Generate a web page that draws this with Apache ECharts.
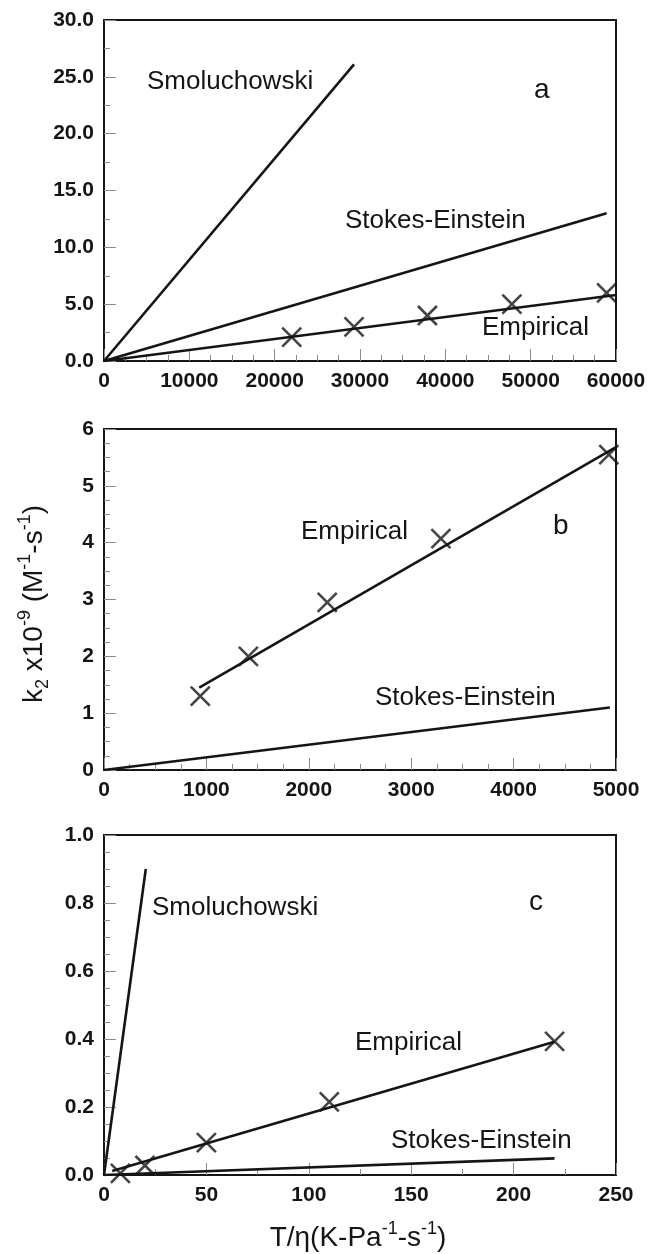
<!DOCTYPE html>
<html>
<head>
<meta charset="utf-8">
<script src="https://cdn.jsdelivr.net/npm/echarts@6/dist/echarts.min.js"></script>
<style>
  html, body { margin: 0; padding: 0; background: #fff; }
  #chart { width: 649px; height: 1254px; }
</style>
</head>
<body>
<div id="chart"></div>
<script>
// panel a
const smoluA = [[0, 0], [29300, 26.1]];
const stokesA = [[0, 0], [58900, 13.0]];
const empLineA = [[0, 0], [60000, 5.8]];
const empPtsA = [[22000, 2.1], [29300, 3.0], [37900, 4.0], [47800, 5.0], [58900, 6.0]];

// panel b
const stokesB = [[0, 0], [4940, 1.10]];
const empLineB = [[930, 1.45], [5000, 5.68]];
const empPtsB = [[940, 1.3], [1410, 2.0], [2180, 2.95], [3290, 4.07], [4930, 5.55]];

// panel c
const smoluC = [[0, 0], [20.4, 0.90]];
const stokesC = [[0, 0], [220, 0.049]];
const empLineC = [[4, 0.012], [220, 0.392]];
const empPtsC = [[8, 0.005], [20, 0.028], [50, 0.095], [110, 0.215], [220, 0.393]];

// axis ranges: [min, max, interval, minor splits]
const xRanges = [[0, 60000, 10000, 4], [0, 5000, 1000, 4], [0, 250, 50, 2]];
const yRanges = [[0, 30, 5, 2], [0, 6, 1, 4], [0, 1, 0.2, 4]];
const yDecimals = [1, 0, 1];

const font = "'Liberation Sans', Arial, sans-serif";
const ink = '#151515';
const crossPath = 'path://M0,0L20,20M20,0L0,20';

let chart = echarts.init(document.getElementById('chart'));

const grids = [
  { left: 104, top: 20, width: 512, height: 341 },
  { left: 104, top: 429, width: 512, height: 341 },
  { left: 104, top: 835, width: 512, height: 340 }
];

function makeAxis(r, idx, isY) {
  return {
    type: 'value',
    gridIndex: idx,
    min: r[0], max: r[1], interval: r[2],
    axisLine: { show: true, onZero: false, lineStyle: { color: ink, width: 2 } },
    axisTick: { show: true, inside: true, length: 12, lineStyle: { color: '#8a8a8a', width: 1 } },
    minorTick: { show: true, splitNumber: r[3], length: 6, lineStyle: { color: '#8a8a8a', width: 1 } },
    splitLine: { show: false },
    axisLabel: {
      color: ink, fontFamily: font, fontWeight: 'bold', fontSize: 21, margin: 10,
      formatter: isY ? (v => v.toFixed(yDecimals[idx])) : (v => String(v))
    }
  };
}

function lineSeries(data, idx) {
  return {
    type: 'line', xAxisIndex: idx, yAxisIndex: idx, data: data,
    showSymbol: false, silent: true,
    lineStyle: { color: ink, width: 2.6 }
  };
}

function crossSeries(data, idx) {
  return {
    type: 'scatter', xAxisIndex: idx, yAxisIndex: idx, data: data,
    symbol: crossPath, symbolSize: 19, silent: true,
    itemStyle: { color: 'none', borderColor: ink, borderWidth: 2.6 }
  };
}

function label(text, x, y, size) {
  return {
    type: 'text', x: x, y: y,
    style: { text: text, fill: ink, font: (size || 26) + 'px ' + font, verticalAlign: 'middle' }
  };
}

const rich = {
  n: { fontSize: 28, fontFamily: font, color: ink, lineHeight: 36, verticalAlign: 'middle' },
  sup: { fontSize: 18, fontFamily: font, color: ink, lineHeight: 18, verticalAlign: 'top' },
  sub: { fontSize: 18, fontFamily: font, color: ink, lineHeight: 18, verticalAlign: 'bottom' }
};

const option = {
  animation: false,
  grid: grids.map(g => Object.assign({ show: true, borderColor: ink, borderWidth: 2, backgroundColor: 'transparent' }, g)),
  xAxis: xRanges.map((r, i) => makeAxis(r, i, false)),
  yAxis: yRanges.map((r, i) => makeAxis(r, i, true)),
  series: [
    lineSeries(smoluA, 0), lineSeries(stokesA, 0), lineSeries(empLineA, 0), crossSeries(empPtsA, 0),
    lineSeries(stokesB, 1), lineSeries(empLineB, 1), crossSeries(empPtsB, 1),
    lineSeries(smoluC, 2), lineSeries(stokesC, 2), lineSeries(empLineC, 2), crossSeries(empPtsC, 2)
  ],
  graphic: [
    label('Smoluchowski', 147, 82),
    label('a', 534, 90, 28),
    label('Stokes-Einstein', 345, 221),
    label('Empirical', 482, 328),
    label('Empirical', 301, 532),
    label('b', 553, 526, 28),
    label('Stokes-Einstein', 375, 698),
    label('Smoluchowski', 152, 908),
    label('c', 529, 902, 28),
    label('Empirical', 355, 1043),
    label('Stokes-Einstein', 391, 1141),
    {
      type: 'text', x: 34, y: 604, rotation: Math.PI / 2,
      style: {
        text: '{n|k}{sub|2}{n| x10}{sup|-9}{n| (M}{sup|-1}{n|-s}{sup|-1}{n|)}',
        rich: rich, align: 'center', verticalAlign: 'middle', fill: ink
      }
    },
    {
      type: 'text', x: 358, y: 1238,
      style: {
        text: '{n|T/η(K-Pa}{sup|-1}{n|-s}{sup|-1}{n|)}',
        rich: rich, align: 'center', verticalAlign: 'middle', fill: ink
      }
    }
  ]
};

chart.setOption(option);
</script>
</body>
</html>
